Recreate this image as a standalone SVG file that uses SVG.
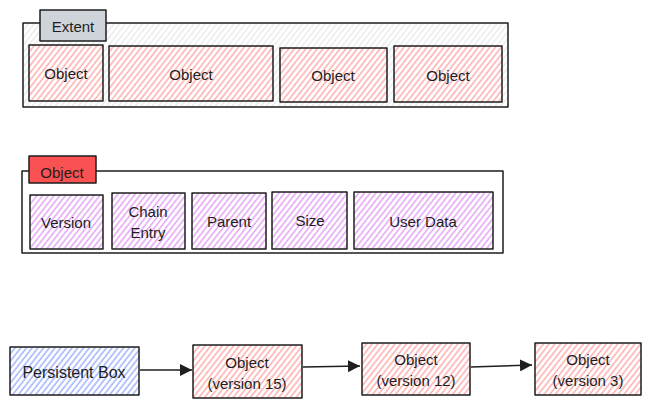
<svg xmlns="http://www.w3.org/2000/svg" width="652" height="409" viewBox="0 0 652 409">
<style>
text{font-family:"Liberation Sans",Arial,sans-serif;font-size:15px;fill:#1e1e1e;text-anchor:middle;dominant-baseline:central}
.box{stroke:#1e1e1e;stroke-width:1.5;stroke-linejoin:round}
.red{fill:url(#hRed)}
.gray{fill:url(#hGray)}
.purple{fill:url(#hPurple)}
.blue{fill:url(#hBlue)}
.conn{stroke:#1e1e1e;stroke-width:1.5;fill:none;marker-end:url(#arr)}
</style>
<defs>
<pattern id="hRed" width="4.5" height="10" patternUnits="userSpaceOnUse" patternTransform="rotate(38)">
<rect width="4.5" height="10" fill="#fff"/><line x1="1" y1="0" x2="1" y2="10" stroke="#ff8787" stroke-width="1"/></pattern>
<pattern id="hGray" width="4.5" height="10" patternUnits="userSpaceOnUse" patternTransform="rotate(38)">
<rect width="4.5" height="10" fill="#fff"/><line x1="1" y1="0" x2="1" y2="10" stroke="#dee2e6" stroke-width="1"/></pattern>
<pattern id="hPurple" width="4.5" height="10" patternUnits="userSpaceOnUse" patternTransform="rotate(38)">
<rect width="4.5" height="10" fill="#fff"/><line x1="1" y1="0" x2="1" y2="10" stroke="#da77f2" stroke-width="1"/></pattern>
<pattern id="hBlue" width="4.5" height="10" patternUnits="userSpaceOnUse" patternTransform="rotate(38)">
<rect width="4.5" height="10" fill="#fff"/><line x1="1" y1="0" x2="1" y2="10" stroke="#748ffc" stroke-width="1"/></pattern>
<marker id="arr" viewBox="0 0 10 10" refX="10" refY="5" markerWidth="12" markerHeight="12" markerUnits="userSpaceOnUse" orient="auto">
<path d="M0,0 L10,5 L0,10 Z" fill="#1e1e1e"/></marker>
</defs>

<g id="extent">
<rect class="box gray" x="23" y="23" width="485" height="84"/>
</g>
<g id="extent-label">
<rect class="box" x="40" y="10" width="66" height="31" fill="#ced4da"/>
<text x="73" y="26">Extent</text>
</g>
<g id="ext-obj1"><rect class="box red" x="29" y="45" width="74" height="56"/><text x="66" y="73">Object</text></g>
<g id="ext-obj2"><rect class="box red" x="109" y="46" width="164" height="55"/><text x="191" y="74">Object</text></g>
<g id="ext-obj3"><rect class="box red" x="280" y="48" width="107" height="54"/><text x="333" y="75">Object</text></g>
<g id="ext-obj4"><rect class="box red" x="394" y="46" width="108" height="56"/><text x="448" y="75">Object</text></g>

<g id="object">
<rect class="box" x="22" y="171" width="481" height="82" fill="none"/>
</g>
<g id="object-label">
<rect class="box" x="29" y="156" width="67" height="27" fill="#fa5252"/>
<text x="62" y="172">Object</text>
</g>
<g id="f-version"><rect class="box purple" x="30" y="195" width="73" height="54"/><text x="66" y="222">Version</text></g>
<g id="f-chain"><rect class="box purple" x="112" y="193" width="73" height="56"/><text x="148" y="211">Chain</text><text x="148" y="232">Entry</text></g>
<g id="f-parent"><rect class="box purple" x="192" y="193" width="74" height="56"/><text x="229" y="221">Parent</text></g>
<g id="f-size"><rect class="box purple" x="272" y="192" width="75" height="57"/><text x="310" y="220">Size</text></g>
<g id="f-user"><rect class="box purple" x="354" y="192" width="139" height="57"/><text x="423" y="221">User Data</text></g>

<g id="persistent-box"><rect class="box blue" x="10" y="347" width="129" height="48"/><text x="74" y="372" style="font-size:16px">Persistent Box</text></g>
<g id="obj-v15"><rect class="box red" x="193" y="345" width="109" height="53"/><text x="247" y="362">Object</text><text x="247" y="383">(version 15)</text></g>
<g id="obj-v12"><rect class="box red" x="362" y="343" width="108" height="52"/><text x="416" y="359">Object</text><text x="416" y="380">(version 12)</text></g>
<g id="obj-v3"><rect class="box red" x="535" y="343" width="106" height="52"/><text x="588" y="359">Object</text><text x="588" y="380">(version 3)</text></g>

<g id="connectors">
<path class="conn" d="M140,370 L192,370"/>
<path class="conn" d="M303,367 L360,366"/>
<path class="conn" d="M471,367 L532,365"/>
</g>
</svg>
